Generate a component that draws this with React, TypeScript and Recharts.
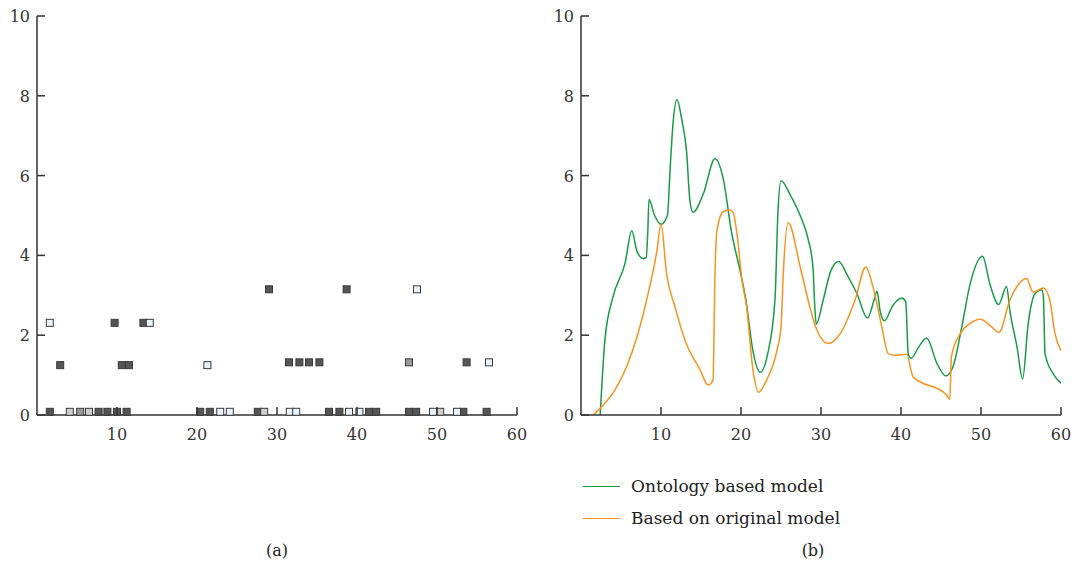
import React from "react";
import { ScatterChart, Scatter, LineChart, Line, XAxis, YAxis } from "recharts";

// left panel (a): squares grouped by fill shade
const darkPoints = [
  { x: 1.6, y: 0.08 }, { x: 7.7, y: 0.08 }, { x: 8.8, y: 0.08 }, { x: 10.0, y: 0.08 },
  { x: 11.2, y: 0.08 }, { x: 20.4, y: 0.08 }, { x: 21.6, y: 0.08 }, { x: 27.6, y: 0.08 },
  { x: 36.5, y: 0.08 }, { x: 37.8, y: 0.08 }, { x: 41.5, y: 0.08 }, { x: 42.4, y: 0.08 },
  { x: 46.5, y: 0.08 }, { x: 47.4, y: 0.08 }, { x: 53.3, y: 0.08 }, { x: 56.2, y: 0.08 },
  { x: 2.9, y: 1.25 }, { x: 10.6, y: 1.25 }, { x: 11.5, y: 1.25 },
  { x: 31.5, y: 1.32 }, { x: 32.8, y: 1.32 }, { x: 34.0, y: 1.32 }, { x: 35.3, y: 1.32 }, { x: 53.7, y: 1.32 },
  { x: 9.7, y: 2.31 }, { x: 13.3, y: 2.31 },
  { x: 29.0, y: 3.15 }, { x: 38.7, y: 3.15 },
];
const lightPoints = [
  { x: 22.9, y: 0.08 }, { x: 24.1, y: 0.08 }, { x: 31.6, y: 0.08 }, { x: 32.4, y: 0.08 },
  { x: 39.0, y: 0.08 }, { x: 40.3, y: 0.08 }, { x: 49.5, y: 0.08 }, { x: 52.5, y: 0.08 },
  { x: 21.3, y: 1.25 }, { x: 56.5, y: 1.32 },
  { x: 1.6, y: 2.31 }, { x: 14.1, y: 2.31 },
  { x: 47.5, y: 3.15 },
];
const paleGrayPoints = [
  { x: 4.1, y: 0.08 }, { x: 6.5, y: 0.08 }, { x: 28.4, y: 0.08 }, { x: 50.4, y: 0.08 },
];
const grayPoints = [
  { x: 5.4, y: 0.08 }, { x: 46.5, y: 1.32 },
];

// right panel (b)
const ontologyModel = [
  [2.4, 0], [3.0, 1.9], [4.0, 2.96], [5.5, 3.8], [6.35, 4.62], [7.0, 4.1], [7.8, 3.92], [8.15, 3.95],
  [8.35, 4.6], [8.5, 5.4], [9.2, 5.0], [10.0, 4.78], [10.8, 5.0], [11.15, 6.2], [11.5, 7.3], [12.0, 7.9],
  [12.6, 7.4], [13.2, 6.6], [13.6, 5.4], [14.0, 5.08], [15.3, 5.55], [16.75, 6.42], [17.8, 5.9],
  [18.8, 4.6], [19.9, 3.6], [20.6, 2.9], [21.5, 1.6], [22.4, 1.07], [23.3, 1.5], [24.25, 2.9],
  [24.6, 5.0], [25.0, 5.87], [26.2, 5.5], [27.4, 5.0], [28.4, 4.4], [29.0, 3.7], [29.2, 2.8],
  [29.4, 2.28], [30.3, 2.9], [31.2, 3.6], [32.2, 3.85], [33.3, 3.5], [34.5, 3.04], [35.8, 2.43],
  [36.75, 2.96], [37.0, 3.1], [37.4, 2.6], [37.9, 2.36], [39.0, 2.75], [40.1, 2.93], [40.6, 2.83],
  [40.9, 1.54], [41.25, 1.42], [42.2, 1.7], [43.2, 1.93], [44.5, 1.29], [45.6, 0.98], [46.5, 1.21],
  [47.6, 2.21], [48.6, 3.25], [50.2, 3.98], [51.1, 3.29], [52.2, 2.77], [53.2, 3.22], [53.6, 2.63],
  [54.5, 1.71], [55.2, 0.9], [55.9, 2.29], [56.75, 3.04], [57.6, 3.14], [57.8, 2.96], [58.0, 1.54],
  [59.0, 1.04], [60, 0.8],
].map(([x, y]) => ({ x, y }));
const originalModel = [
  [1.5, 0], [2.6, 0.21], [4.25, 0.63], [5.7, 1.21], [7.0, 1.96], [8.2, 2.88], [9.5, 4.13], [10.0, 4.79],
  [10.7, 3.54], [11.75, 2.71], [13.0, 1.875], [14.9, 1.125], [15.9, 0.75], [16.5, 0.875], [16.75, 3.54],
  [17.0, 4.63], [17.8, 5.1], [18.6, 5.14], [19.0, 5.08], [19.5, 4.54], [20.1, 3.42], [20.7, 2.7],
  [21.5, 1.125], [22.2, 0.57], [23.2, 0.875], [24.5, 1.625], [25.0, 2.2], [25.3, 3.6], [25.9, 4.82],
  [27.4, 3.71], [28.6, 2.71], [29.5, 2.125], [30.9, 1.79], [32.4, 2.04], [34.25, 2.875], [35.6, 3.71],
  [36.5, 3.21], [37.6, 2.21], [38.4, 1.54], [39.25, 1.5], [40.7, 1.52], [41.5, 0.96], [42.8, 0.79],
  [44.5, 0.67], [45.7, 0.5], [46.1, 0.39], [46.3, 1.46], [47.4, 2.04], [48.6, 2.29], [49.9, 2.4],
  [51.1, 2.25], [52.25, 2.07], [53.6, 2.875], [55.7, 3.42], [56.5, 3.08], [57.8, 3.18], [58.6, 2.875],
  [59.25, 2.04], [60, 1.61],
].map(([x, y]) => ({ x, y }));

const yTicks = [0, 2, 4, 6, 8, 10];
const xTicks = [10, 20, 30, 40, 50, 60];

const FONT = "'DejaVu Serif', serif";
const AXIS = "#333";

function YTick(props: any) {
  const { x, y, payload } = props;
  return (
    <g>
      <line x1={x + 7} x2={x + 15} y1={y} y2={y} stroke={AXIS} strokeWidth={1.5} />
      <text x={x} y={y} dy={6} textAnchor="end" fontFamily={FONT} fontSize={16} fill="#333">
        {payload.value}
      </text>
    </g>
  );
}

function XTick(props: any) {
  const { x, y, payload } = props;
  return (
    <g>
      <line x1={x} x2={x} y1={y - 10} y2={y - 18} stroke={AXIS} strokeWidth={1.5} />
      <text x={x} y={y} dy={15} textAnchor="middle" fontFamily={FONT} fontSize={16} fill="#333">
        {payload.value}
      </text>
    </g>
  );
}

function square(fill: string) {
  return (p: any) => (
    <rect x={p.cx - 3.5} y={p.cy - 3.5} width={7} height={7} fill={fill} stroke="#3a3a3a" strokeWidth={1} />
  );
}

const axisCommon = {
  axisLine: { stroke: AXIS, strokeWidth: 1.5 },
  tickLine: false,
};

export default function App() {
  return (
    <div style={{ position: "absolute", left: 0, top: 0, width: 1074, height: 572, background: "#fff", fontFamily: FONT }}>
      <div style={{ position: "absolute", left: 0, top: 0 }}>
        <ScatterChart width={540} height={445} margin={{ top: 16, right: 23, left: 0, bottom: 0 }}>
          <XAxis type="number" dataKey="x" domain={[0, 60]} ticks={xTicks} height={30}
            tickSize={0} tickMargin={10} tick={<XTick />} {...axisCommon} />
          <YAxis type="number" dataKey="y" domain={[0, 10]} ticks={yTicks} width={37}
            tickSize={0} tickMargin={7} tick={<YTick />} {...axisCommon} />
          <Scatter data={darkPoints} shape={square("#555")} isAnimationActive={false} />
          <Scatter data={grayPoints} shape={square("#9a9a9a")} isAnimationActive={false} />
          <Scatter data={paleGrayPoints} shape={square("#cfcfcf")} isAnimationActive={false} />
          <Scatter data={lightPoints} shape={square("#eaf2fa")} isAnimationActive={false} />
        </ScatterChart>
      </div>
      <div style={{ position: "absolute", left: 544, top: 0 }}>
        <LineChart width={530} height={445} margin={{ top: 16, right: 13, left: 0, bottom: 0 }}>
          <XAxis type="number" dataKey="x" domain={[0, 60]} ticks={xTicks} height={30}
            tickSize={0} tickMargin={10} tick={<XTick />} {...axisCommon} />
          <YAxis type="number" domain={[0, 10]} ticks={yTicks} width={37}
            tickSize={0} tickMargin={7} tick={<YTick />} {...axisCommon} />
          <Line data={ontologyModel} dataKey="y" type="monotone" stroke="#179b45" strokeWidth={1.5}
            dot={false} isAnimationActive={false} />
          <Line data={originalModel} dataKey="y" type="monotone" stroke="#f7931e" strokeWidth={1.5}
            dot={false} isAnimationActive={false} />
        </LineChart>
      </div>
      <div style={{ position: "absolute", left: 583, top: 474, fontSize: 17, color: "#222" }}>
        <div style={{ display: "flex", alignItems: "center", height: 24 }}>
          <span style={{ display: "inline-block", width: 37, borderTop: "1.5px solid #179b45", marginRight: 11 }} />
          Ontology based model
        </div>
        <div style={{ display: "flex", alignItems: "center", height: 24, marginTop: 8 }}>
          <span style={{ display: "inline-block", width: 37, borderTop: "1.5px solid #f7931e", marginRight: 11 }} />
          Based on original model
        </div>
      </div>
      <div style={{ position: "absolute", left: 257, top: 541, width: 40, textAlign: "center", fontSize: 16, color: "#222" }}>(a)</div>
      <div style={{ position: "absolute", left: 793, top: 541, width: 40, textAlign: "center", fontSize: 16, color: "#222" }}>(b)</div>
    </div>
  );
}
